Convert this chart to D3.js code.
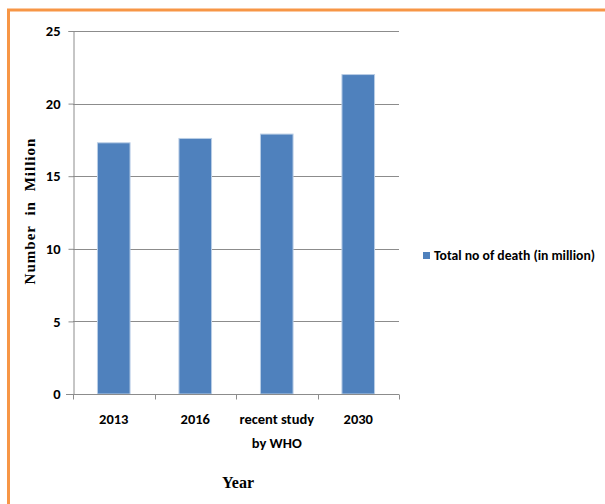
<!DOCTYPE html>
<html>
<head>
<meta charset="utf-8">
<script src="https://cdn.jsdelivr.net/npm/d3@7"></script>
<style>
  body { margin: 0; background: #fff; }
  .tick-label { font-family: Carlito, "Liberation Sans Narrow", "Open Sans", sans-serif; font-weight: bold; font-size: 14.5px; fill: #000; }
</style>
</head>
<body>
<svg id="chart" width="605" height="504"></svg>
<script>
const categories = ["2013", "2016", "recent study|by WHO", "2030"];
const deaths = [17.3, 17.6, 17.9, 22.0];
const yTicks = [0, 5, 10, 15, 20, 25];
const seriesName = "Total no of death (in million)";

const svg = d3.select("#chart");

// orange frame (top and left edges only are visible)
svg.append("path")
    .attr("d", "M8.5,504 V10 H605")
    .attr("fill", "none")
    .attr("stroke", "#f79646")
    .attr("stroke-width", 3);

const xScale = d3.scaleBand()
    .domain(categories)
    .range([73, 399])
    .paddingInner(0.6)
    .paddingOuter(0.3);

const yScale = d3.scaleLinear()
    .domain([0, 25])
    .range([394, 31]);

// gridlines
svg.append("g")
    .selectAll("line")
    .data(yTicks.filter(d => d > 0))
    .join("line")
    .attr("x1", 73)
    .attr("x2", 399)
    .attr("y1", d => Math.round(yScale(d)) + 0.5)
    .attr("y2", d => Math.round(yScale(d)) + 0.5)
    .attr("stroke", "#8c8c8c")
    .attr("stroke-width", 1);

// bars
svg.append("g")
    .selectAll("rect")
    .data(deaths)
    .join("rect")
    .attr("x", (d, i) => xScale(categories[i]))
    .attr("y", d => yScale(d))
    .attr("width", xScale.bandwidth())
    .attr("height", d => yScale(0) - yScale(d))
    .attr("fill", "#4f81bd")
    .attr("stroke", "#b9cde5")
    .attr("stroke-width", 1);

// y axis
const yAxis = svg.append("g")
    .attr("transform", "translate(73.5,0)")
    .call(d3.axisLeft(yScale).tickValues(yTicks).tickSize(5).tickPadding(8));
yAxis.select(".domain").attr("stroke", "#8c8c8c");
yAxis.selectAll(".tick line").attr("stroke", "#8c8c8c");
yAxis.selectAll(".tick text").attr("class", "tick-label");

// x axis
const xAxis = svg.append("g")
    .attr("transform", "translate(0,394.5)");
xAxis.append("line")
    .attr("x1", 66).attr("x2", 399)
    .attr("stroke", "#8c8c8c");
xAxis.selectAll(".xtick")
    .data(d3.range(categories.length + 1))
    .join("line")
    .attr("x1", i => Math.round(73 + i * (326 / categories.length)) + 0.5)
    .attr("x2", i => Math.round(73 + i * (326 / categories.length)) + 0.5)
    .attr("y1", 0).attr("y2", 5)
    .attr("stroke", "#8c8c8c");
xAxis.selectAll(".xlab")
    .data(categories)
    .join("text")
    .attr("class", "tick-label")
    .attr("text-anchor", "middle")
    .attr("x", d => xScale(d) + xScale.bandwidth() / 2)
    .attr("y", 29)
    .each(function(d) {
        const parts = d.split("|");
        d3.select(this).selectAll("tspan")
            .data(parts)
            .join("tspan")
            .attr("x", xScale(d) + xScale.bandwidth() / 2)
            .attr("dy", (p, j) => j === 0 ? 0 : 24)
            .text(p => p);
    });

// axis titles
svg.append("text")
    .attr("x", 238)
    .attr("y", 488)
    .attr("text-anchor", "middle")
    .attr("font-family", "'Liberation Serif', 'DejaVu Serif', serif")
    .attr("font-weight", "bold")
    .attr("font-size", 16)
    .text("Year");

svg.append("text")
    .attr("transform", "translate(35,211) rotate(-90)")
    .attr("text-anchor", "middle")
    .attr("font-family", "'Liberation Serif', 'DejaVu Serif', serif")
    .attr("font-weight", "bold")
    .attr("font-size", 15)
    .attr("letter-spacing", 1)
    .attr("word-spacing", 5)
    .text("Number in Million");

// legend
const legend = svg.append("g").attr("transform", "translate(423,252)");
legend.append("rect")
    .attr("width", 7).attr("height", 7)
    .attr("fill", "#4f81bd");
legend.append("text")
    .attr("class", "tick-label")
    .attr("x", 11)
    .attr("y", 8)
    .style("font-size", "13.7px")
    .text(seriesName);
</script>
</body>
</html>
